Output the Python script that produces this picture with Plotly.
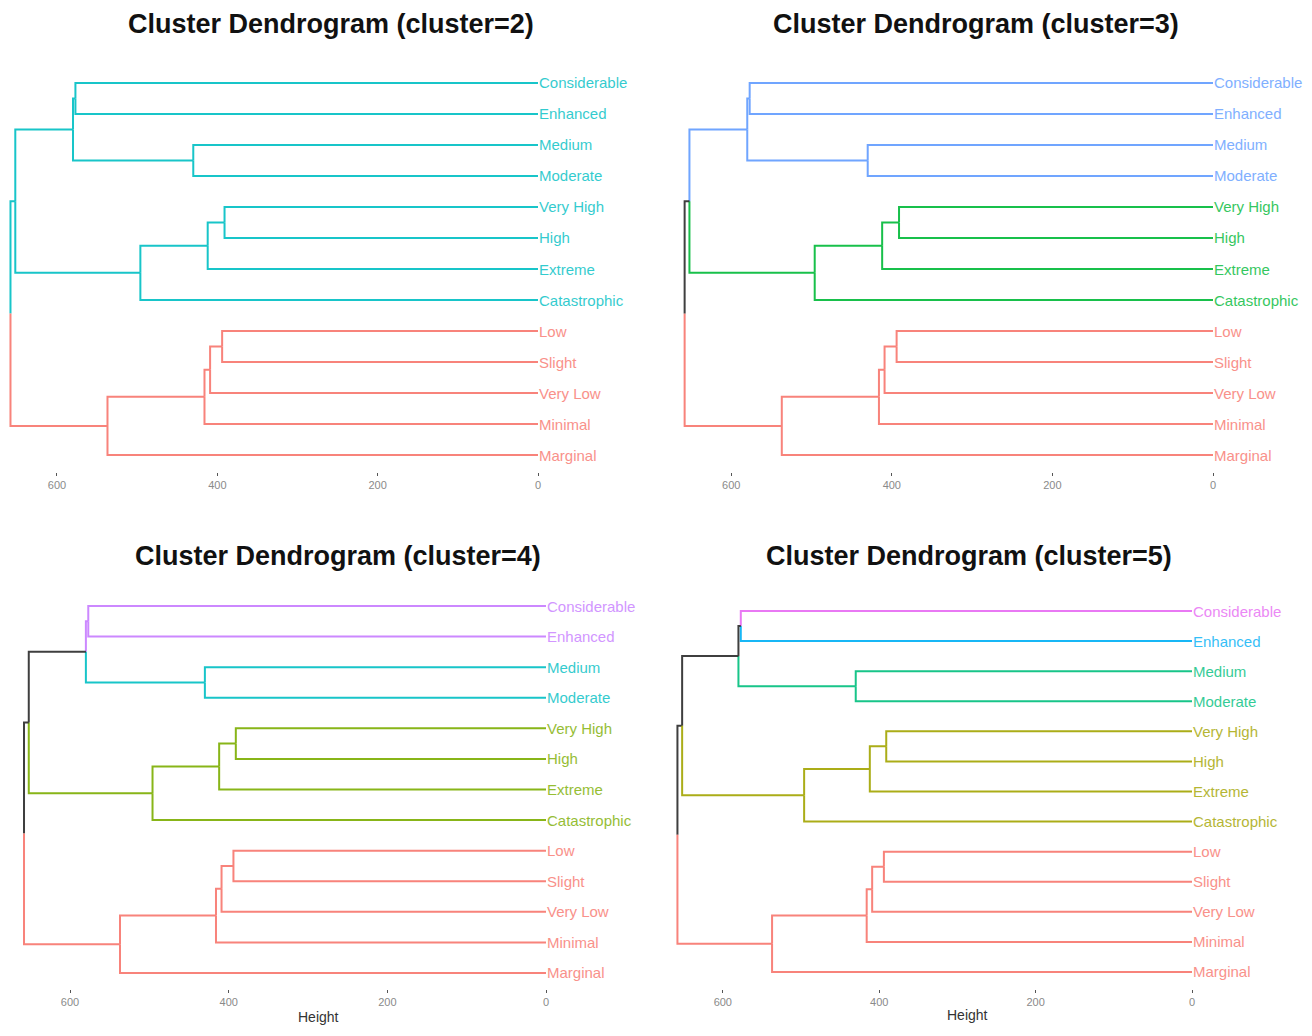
import plotly.graph_objects as go

# Leaves, listed in dendrogram order (top to bottom)
leaf_labels = ["Considerable", "Enhanced", "Medium", "Moderate", "Very High", "High",
               "Extreme", "Catastrophic", "Low", "Slight", "Very Low", "Minimal", "Marginal"]

# hclust-style merge table: negative = leaf (1-based), positive = earlier merge step
merge_left = [-1, -3, 1, -5, 4, 5, 3, -9, 8, 9, 10, 7]
merge_right = [-2, -4, 2, -6, -7, -8, 6, -10, -11, -12, -13, 11]
merge_height = [577, 430, 580, 391, 412, 496, 652, 394, 409, 416, 537, 658]

height_ticks = [0, 200, 400, 600]
cluster_counts = [2, 3, 4, 5]

# Cluster colours in top-to-bottom order for each cut
cluster_colors = {
    2: ["#00BFC4", "#F8766D"],
    3: ["#619CFF", "#00BA38", "#F8766D"],
    4: ["#C77CFF", "#00BFC4", "#7CAE00", "#F8766D"],
    5: ["#E76BF3", "#00B0F6", "#00BF7D", "#A3A500", "#F8766D"],
}
BRANCH_DARK = "#2b2b2b"

W, H = 1312, 1036

# Panel geometry in pixels: plot box and the pixel where height 0 sits + px per unit
panels = [
    dict(k=2, left=0, right=645, top=70, bottom=472, zero=538, scale=0.8017, leaf0=83, step=31.0,
         title_x=331, title_y=24),
    dict(k=3, left=672, right=1312, top=70, bottom=472, zero=1213, scale=0.803, leaf0=83, step=31.0,
         title_x=976, title_y=24),
    dict(k=4, left=0, right=650, top=595, bottom=989, zero=546, scale=0.7933, leaf0=606, step=30.58,
         title_x=338, title_y=556, xlabel_x=318, xlabel_y=1017),
    dict(k=5, left=665, right=1312, top=595, bottom=989, zero=1192, scale=0.782, leaf0=611, step=30.08,
         title_x=969, title_y=556, xlabel_x=967, xlabel_y=1015),
]


def node(ref):
    """Return (height, y, leaves) for a leaf or merge reference."""
    if ref < 0:
        i = -ref
        return 0.0, float(i), [i]
    j = ref - 1
    hl, yl, ll = node(merge_left[j])
    hr, yr, lr = node(merge_right[j])
    return float(merge_height[j]), (yl + yr) / 2.0, ll + lr


def leaf_clusters(k):
    """Assign each leaf to one of k clusters, numbered top to bottom."""
    cut = sorted(merge_height, reverse=True)[k - 2]
    groups = []

    def walk(ref):
        h, _, leaves = node(ref)
        if ref < 0 or h < cut:
            groups.append(sorted(leaves))
            return
        walk(merge_left[ref - 1])
        walk(merge_right[ref - 1])

    walk(len(merge_height))
    groups.sort(key=lambda g: g[0])
    mapping = {}
    for ci, g in enumerate(groups):
        for leaf in g:
            mapping[leaf] = ci
    return mapping


fig = go.Figure()
annotations = []

for pi, p in enumerate(panels):
    k = p["k"]
    colors = cluster_colors[k]
    cl = leaf_clusters(k)
    suffix = "" if pi == 0 else str(pi + 1)
    xa, ya = "x" + suffix, "y" + suffix

    def color_of(ref):
        _, _, leaves = node(ref)
        cs = {cl[l] for l in leaves}
        return colors[cs.pop()] if len(cs) == 1 else BRANCH_DARK

    # collect elbow segments grouped by colour
    segs = {}
    for j in range(len(merge_height)):
        h, y, _ = node(j + 1)
        for child in (merge_left[j], merge_right[j]):
            ch, cy, _ = node(child)
            c = color_of(child)
            xs, ys = segs.setdefault(c, ([], []))
            xs += [h, h, ch, None]
            ys += [y, cy, cy, None]

    for c, (xs, ys) in segs.items():
        fig.add_trace(go.Scatter(x=xs, y=ys, mode="lines", xaxis=xa, yaxis=ya,
                                 line=dict(color=c, width=2), opacity=0.9, hoverinfo="skip",
                                 showlegend=False))

    # leaf labels at height 0
    for i, lab in enumerate(leaf_labels, start=1):
        annotations.append(dict(x=0, y=i, xref=xa, yref=ya, text=lab, showarrow=False,
                                xanchor="left", yanchor="middle", xshift=-1,
                                font=dict(family="Liberation Sans, Arial", size=15,
                                          color=colors[cl[i]]), opacity=0.8))

    # axes
    x_lo = (p["zero"] - p["left"]) / p["scale"]
    x_hi = (p["zero"] - p["right"]) / p["scale"]
    y_top = 1 + (p["top"] - p["leaf0"]) / p["step"]
    y_bot = 1 + (p["bottom"] - p["leaf0"]) / p["step"]
    xdom = [p["left"] / W, p["right"] / W]
    ydom = [1 - p["bottom"] / H, 1 - p["top"] / H]

    fig.layout["xaxis" + suffix] = dict(
        domain=xdom, range=[x_lo, x_hi], anchor=ya, showgrid=False, zeroline=False,
        showline=False, ticks="outside", ticklen=3, tickwidth=1, tickcolor="#555",
        tickvals=height_ticks, ticktext=[str(t) for t in height_ticks],
        tickfont=dict(family="Liberation Sans, Arial", size=11, color="#8a8a8a"),
        fixedrange=True)
    fig.layout["yaxis" + suffix] = dict(
        domain=ydom, range=[y_bot, y_top], anchor=xa, visible=False, fixedrange=True)

    annotations.append(dict(x=p["title_x"] / W, y=1 - p["title_y"] / H, xref="paper", yref="paper",
                            text=f"<b>Cluster Dendrogram (cluster={k})</b>", showarrow=False,
                            xanchor="center", yanchor="middle",
                            font=dict(family="Liberation Sans, Arial", size=27, color="#111")))
    if "xlabel_x" in p:
        annotations.append(dict(x=p["xlabel_x"] / W, y=1 - p["xlabel_y"] / H, xref="paper",
                                yref="paper", text="Height", showarrow=False,
                                xanchor="center", yanchor="middle",
                                font=dict(family="Liberation Sans, Arial", size=14,
                                          color="#333")))

fig.update_layout(width=W, height=H, margin=dict(l=0, r=0, t=0, b=0),
                  paper_bgcolor="white", plot_bgcolor="white",
                  annotations=annotations, showlegend=False)

fig.write_html("out.html")
